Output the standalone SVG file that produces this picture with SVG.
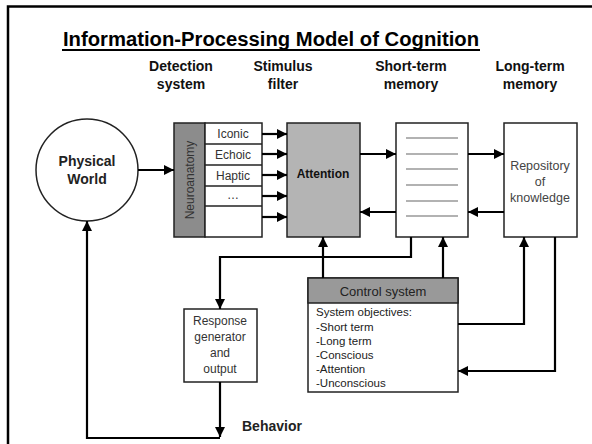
<svg xmlns="http://www.w3.org/2000/svg" width="592" height="444" viewBox="0 0 592 444">
<defs>
<marker id="ah" viewBox="0 0 10 10" refX="10" refY="5" markerWidth="10" markerHeight="10" markerUnits="userSpaceOnUse" orient="auto">
<path d="M0,0 L10,5 L0,10 Z" fill="#000"/>
</marker>
<style>
text{font-family:"Liberation Sans",Arial,sans-serif;}
.hd{font-size:14px;font-weight:bold;text-anchor:middle;fill:#111;}
.box{fill:#fff;stroke:#222;stroke-width:1.5;}
.c{stroke:#000;stroke-width:2.2;fill:none;}
.a{stroke:#000;stroke-width:2.2;fill:none;marker-end:url(#ah);}
.cell{font-size:12px;text-anchor:middle;fill:#333;}
.obj{font-size:11.5px;fill:#222;}
.ln{stroke:#999;stroke-width:1.3;}
</style>
</defs>
<rect width="592" height="444" fill="#fff"/>
<path d="M8,444 V6.5 H592" fill="none" stroke="#000" stroke-width="2.5"/>
<g id="title">
<text x="271" y="46" text-anchor="middle" font-size="20" font-weight="bold" fill="#000" textLength="416" lengthAdjust="spacingAndGlyphs">Information-Processing Model of Cognition</text>
<line x1="62" y1="50" x2="480" y2="50" stroke="#000" stroke-width="1.8"/>
</g>
<g id="headers">
<text class="hd" x="181" y="71">Detection</text><text class="hd" x="181" y="89">system</text>
<text class="hd" x="283" y="71">Stimulus</text><text class="hd" x="283" y="89">filter</text>
<text class="hd" x="411" y="71">Short-term</text><text class="hd" x="411" y="89">memory</text>
<text class="hd" x="530" y="71">Long-term</text><text class="hd" x="530" y="89">memory</text>
</g>
<g id="physical-world">
<circle cx="87" cy="170" r="51" fill="#fff" stroke="#222" stroke-width="1.5"/>
<text x="87" y="166" text-anchor="middle" font-size="14" font-weight="bold" fill="#222">Physical</text>
<text x="87" y="184" text-anchor="middle" font-size="14" font-weight="bold" fill="#222">World</text>
</g>
<g id="detection-system">
<rect x="174" y="123" width="31" height="114" fill="#8c8c8c" stroke="#222" stroke-width="1.5"/>
<text transform="translate(194,180) rotate(-90)" text-anchor="middle" font-size="12" fill="#333">Neuroanatomy</text>
<rect x="205" y="123" width="57" height="114" class="box"/>
<line x1="205" y1="144" x2="262" y2="144" stroke="#222" stroke-width="1.5"/>
<line x1="205" y1="165" x2="262" y2="165" stroke="#222" stroke-width="1.5"/>
<line x1="205" y1="186" x2="262" y2="186" stroke="#222" stroke-width="1.5"/>
<line x1="205" y1="206" x2="262" y2="206" stroke="#222" stroke-width="1.5"/>
<text class="cell" x="233" y="138">Iconic</text>
<text class="cell" x="233" y="159">Echoic</text>
<text class="cell" x="233" y="180">Haptic</text>
<text class="cell" x="233" y="199" font-size="9" fill="#777">…</text>
</g>
<g id="attention">
<rect x="287" y="123" width="73" height="114" fill="#b4b4b4" stroke="#222" stroke-width="1.5"/>
<text x="323" y="178" text-anchor="middle" font-size="12" font-weight="bold" fill="#111">Attention</text>
</g>
<g id="short-term-memory">
<rect x="396" y="123" width="72" height="114" class="box"/>
<line class="ln" x1="406" y1="138" x2="458" y2="138"/>
<line class="ln" x1="406" y1="154" x2="458" y2="154"/>
<line class="ln" x1="406" y1="169" x2="458" y2="169"/>
<line class="ln" x1="406" y1="185" x2="458" y2="185"/>
<line class="ln" x1="406" y1="201" x2="458" y2="201"/>
<line class="ln" x1="406" y1="216" x2="458" y2="216"/>
</g>
<g id="long-term-memory">
<rect x="504" y="123" width="73" height="114" class="box"/>
<text x="540" y="170" text-anchor="middle" font-size="12.5" fill="#444">Repository</text>
<text x="540" y="186" text-anchor="middle" font-size="12.5" fill="#444">of</text>
<text x="540" y="202" text-anchor="middle" font-size="12.5" fill="#444">knowledge</text>
</g>
<g id="control-system">
<rect x="308" y="278" width="150" height="114" class="box"/>
<rect x="308" y="278" width="150" height="25" fill="#999" stroke="#222" stroke-width="1.5"/>
<text x="383" y="296" text-anchor="middle" font-size="13" fill="#222">Control system</text>
<text class="obj" x="316" y="316">System objectives:</text>
<text class="obj" x="316" y="331">-Short term</text>
<text class="obj" x="316" y="345">-Long term</text>
<text class="obj" x="316" y="359">-Conscious</text>
<text class="obj" x="316" y="373">-Attention</text>
<text class="obj" x="316" y="387">-Unconscious</text>
</g>
<g id="response-generator">
<rect x="184" y="309" width="73" height="73" class="box"/>
<text x="220" y="325" text-anchor="middle" font-size="12" fill="#333">Response</text>
<text x="220" y="341" text-anchor="middle" font-size="12" fill="#333">generator</text>
<text x="220" y="357" text-anchor="middle" font-size="12" fill="#333">and</text>
<text x="220" y="373" text-anchor="middle" font-size="12" fill="#333">output</text>
</g>
<g id="behavior-label">
<text x="242" y="431" font-size="14" font-weight="bold" fill="#222">Behavior</text>
</g>
<g id="connectors">
<line class="a" x1="138" y1="170" x2="174" y2="170"/>
<line class="a" x1="262" y1="134" x2="287" y2="134"/>
<line class="a" x1="262" y1="154" x2="287" y2="154"/>
<line class="a" x1="262" y1="175" x2="287" y2="175"/>
<line class="a" x1="262" y1="196" x2="287" y2="196"/>
<line class="a" x1="262" y1="217" x2="287" y2="217"/>
<line class="a" x1="360" y1="154" x2="396" y2="154"/>
<line class="a" x1="396" y1="212" x2="360" y2="212"/>
<line class="a" x1="468" y1="154" x2="504" y2="154"/>
<line class="a" x1="504" y1="212" x2="468" y2="212"/>
<path class="a" d="M411,237 V257 H220 V309"/>
<line class="a" x1="323" y1="278" x2="323" y2="237"/>
<line class="a" x1="443" y1="278" x2="443" y2="237"/>
<path class="a" d="M458,324 H524 V237"/>
<path class="a" d="M555,237 V371 H458"/>
<line class="a" x1="220" y1="382" x2="220" y2="437"/>
<path class="a" d="M220,438 H87 V221"/>
</g>
</svg>
